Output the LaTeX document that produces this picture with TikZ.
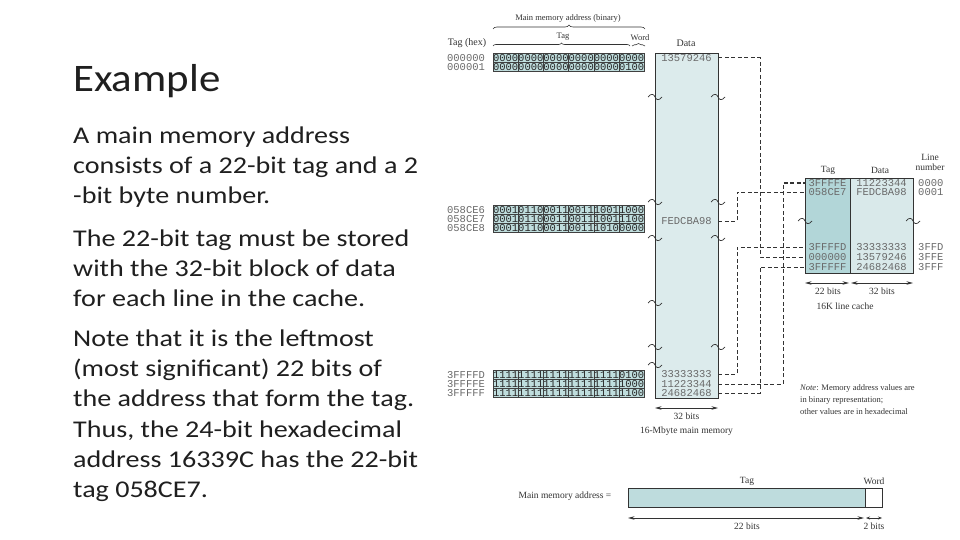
\documentclass[tikz,border=0pt]{standalone}
\usepackage{fontspec}
\setmainfont{Liberation Serif}
\newfontfamily\bodyfont[FakeStretch=1.17]{Carlito}
\newfontfamily\titlefont[FakeStretch=1.1]{Carlito}
\newfontfamily\hexfont{Liberation Mono}
\usetikzlibrary{decorations.pathreplacing,arrows.meta}
\definecolor{memfill}{HTML}{DCEBEC}
\definecolor{tagfill}{HTML}{B2D6D8}
\definecolor{datfill}{HTML}{D9E9EA}
\definecolor{binfill}{HTML}{BFDDDD}
\definecolor{barfill}{HTML}{BEDCDD}
\definecolor{ink}{HTML}{333333}
\definecolor{hexgray}{HTML}{6A6A6A}
\newcommand\binrow[3]{%
  \foreach \g [count=\i from 0] in {#3} {\node[bincell] (#1-\i) at ({505.6+25.2*\i},#2) {\g};}}
\begin{document}
\begin{tikzpicture}[x=1pt,y=-1pt,
  bodytxt/.style={anchor=base west, inner sep=0, font=\bodyfont\fontsize{24}{28}\selectfont, text=black!88},
  lbl/.style={inner sep=0, font=\fontsize{9}{10}\selectfont, text=ink},
  hex/.style={inner sep=0, font=\hexfont\fontsize{10.5}{11}\selectfont, text=hexgray},
  bincell/.style={draw=black!75, line width=0.6pt, fill=binfill, inner sep=0, minimum width=25.2pt, minimum height=8.5pt, font=\hexfont\fontsize{10.5}{9}\selectfont, text=black!85},
  conn/.style={draw=ink, line width=1pt, dash pattern=on 4pt off 2.5pt},
  dimarrow/.style={{Stealth[length=6.5pt,width=3.5pt]}-{Stealth[length=6.5pt,width=3.5pt]}, line width=0.7pt, draw=ink},
  boxline/.style={draw=ink, line width=0.9pt, inner sep=0},
  wavy/.pic={\draw[ink, line width=0.7pt] (-7,0) .. controls (-4,-4) and (-1,-3) .. (0,0) .. controls (1,3) and (4,4) .. (7,0);}
]
\useasboundingbox (0,0) rectangle (960,540);
\fill[white] (0,0) rectangle (960,540);

% ---------- left text ----------
\node[anchor=base west, inner sep=0, font=\titlefont\fontsize{39}{44}\selectfont, text=black!88] (title) at (73,92) {Example};
\node[bodytxt] (t1) at (73,144) {A main memory address};
\node[bodytxt] (t2) at (73,174) {consists of a 22-bit tag and a 2};
\node[bodytxt] (t3) at (73,204) {-bit byte number.};
\node[bodytxt] (t4) at (73,246) {The 22-bit tag must be stored};
\node[bodytxt] (t5) at (73,276) {with the 32-bit block of data};
\node[bodytxt] (t6) at (73,306) {for each line in the cache.};
\node[bodytxt] (t7) at (73,346) {Note that it is the leftmost};
\node[bodytxt] (t8) at (73,376) {(most significant) 22 bits of};
\node[bodytxt] (t9) at (73,406) {the address that form the tag.};
\node[bodytxt] (t10) at (73,437) {Thus, the 24-bit hexadecimal};
\node[bodytxt] (t11) at (73,467) {address 16339C has the 22-bit};
\node[bodytxt] (t12) at (73,497) {tag 058CE7.};

% ---------- headers ----------
\node[lbl, font=\fontsize{8.5}{10}\selectfont] (hmain) at (568,18) {Main memory address (binary)};
\draw[ink, line width=0.6pt, decorate, decoration={brace, amplitude=4pt}] (493,29) -- (645,29);
\node[lbl, font=\fontsize{8.5}{10}\selectfont] (htag) at (563,37) {Tag};
\node[lbl, font=\fontsize{8.5}{10}\selectfont] (hword) at (640,38) {Word};
\draw[ink, line width=0.6pt, decorate, decoration={brace, amplitude=3pt}] (493,46) -- (630,46);
\draw[ink, line width=0.6pt, decorate, decoration={brace, amplitude=2.5pt}] (632,46) -- (645,46);
\node[lbl, font=\fontsize{10}{11}\selectfont] (hhex) at (467,43) {Tag (hex)};
\node[lbl, font=\fontsize{10}{11}\selectfont] (hdata) at (686,43) {Data};

% ---------- main memory ----------
\node[boxline, fill=memfill, minimum width=63pt, minimum height=345pt] (mem) at (686.5,225.5) {};
\foreach \yy in {97,202,238,303,347,365} {\pic at (655,\yy) {wavy};}
\foreach \yy in {97,202,238,347} {\pic at (718,\yy) {wavy};}

\node[hex] (a0) at (466,58) {000000};
\node[hex] (a1) at (466,67) {000001};
\node[hex] (a2) at (466,210) {058CE6};
\node[hex] (a3) at (466,219) {058CE7};
\node[hex] (a4) at (466,228) {058CE8};
\node[hex] (a5) at (466,375) {3FFFFD};
\node[hex] (a6) at (466,384) {3FFFFE};
\node[hex] (a7) at (466,393) {3FFFFF};

\binrow{b0}{58}{0000,0000,0000,0000,0000,0000}
\binrow{b1}{67}{0000,0000,0000,0000,0000,0100}
\binrow{b2}{210}{0001,0110,0011,0011,1001,1000}
\binrow{b3}{219}{0001,0110,0011,0011,1001,1100}
\binrow{b4}{228}{0001,0110,0011,0011,1010,0000}
\binrow{b5}{375}{1111,1111,1111,1111,1111,0100}
\binrow{b6}{384}{1111,1111,1111,1111,1111,1000}
\binrow{b7}{393}{1111,1111,1111,1111,1111,1100}

\node[hex] (d1) at (686.5,58) {13579246};
\node[hex] (d2) at (686.5,221) {FEDCBA98};
\node[hex] (d3) at (686.5,374) {33333333};
\node[hex] (d4) at (686.5,384) {11223344};
\node[hex] (d5) at (686.5,393) {24682468};

\coordinate (m32l) at (655,408);
\coordinate (m32r) at (718,408);
\draw[dimarrow] (m32l) -- (m32r);
\node[lbl, font=\fontsize{9.5}{11}\selectfont] (m32) at (686.5,416) {32 bits};
\node[lbl, font=\fontsize{9.5}{11}\selectfont] (mcap) at (686.5,431) {16-Mbyte main memory};

% ---------- cache ----------
\node[lbl, font=\fontsize{9.5}{11}\selectfont] (ctagh) at (828,170) {Tag};
\node[lbl, font=\fontsize{9.5}{11}\selectfont] (cdath) at (880,170) {Data};
\node[lbl, font=\fontsize{9.5}{11}\selectfont, align=center] (clnh) at (930,162.5) {Line\\[-1.5pt]number};
\node[boxline, fill=tagfill, minimum width=45pt, minimum height=95pt] (ctag) at (827.5,225.5) {};
\node[boxline, fill=datfill, minimum width=63pt, minimum height=95pt] (cdat) at (881.5,225.5) {};
\pic at (805,221) {wavy};
\pic at (913,221) {wavy};

\node[hex] (ct1) at (827.5,183) {3FFFFE};
\node[hex] (ct2) at (827.5,192) {058CE7};
\node[hex] (ct3) at (827.5,247) {3FFFFD};
\node[hex] (ct4) at (827.5,257) {000000};
\node[hex] (ct5) at (827.5,267) {3FFFFF};
\node[hex] (cd1) at (881.5,183) {11223344};
\node[hex] (cd2) at (881.5,192) {FEDCBA98};
\node[hex] (cd3) at (881.5,247) {33333333};
\node[hex] (cd4) at (881.5,257) {13579246};
\node[hex] (cd5) at (881.5,267) {24682468};
\node[hex, anchor=west] (cl1) at (918,183) {0000};
\node[hex, anchor=west] (cl2) at (918,192) {0001};
\node[hex, anchor=west] (cl3) at (918,247) {3FFD};
\node[hex, anchor=west] (cl4) at (918,257) {3FFE};
\node[hex, anchor=west] (cl5) at (918,267) {3FFF};

\coordinate (c22l) at (805,283);
\coordinate (c22r) at (849,283);
\coordinate (c32l) at (851,283);
\coordinate (c32r) at (913,283);
\draw[dimarrow] (c22l) -- (c22r);
\draw[dimarrow] (c32l) -- (c32r);
\node[lbl, font=\fontsize{9.5}{11}\selectfont] (c22) at (828,291) {22 bits};
\node[lbl, font=\fontsize{9.5}{11}\selectfont] (c32) at (882,291) {32 bits};
\node[lbl, font=\fontsize{9.5}{11}\selectfont] (ccap) at (845,306) {16K line cache};

% ---------- connectors ----------
\coordinate (v1) at (737,0);
\coordinate (v2) at (760,0);
\coordinate (v3) at (783,0);
\draw[conn] (d1 -| mem.east) -- (d1 -| v2) |- (ct4 -| ctag.west);
\draw[conn] (d2 -| mem.east) -- (d2 -| v1) |- (ct2 -| ctag.west);
\draw[conn] (d3 -| mem.east) -- (d3 -| v1) |- (ct3 -| ctag.west);
\draw[conn] (d4 -| mem.east) -- (d4 -| v3) |- (ct1 -| ctag.west);
\draw[conn] (d5 -| mem.east) -- (d5 -| v2) |- (ct5 -| ctag.west);

% ---------- note ----------
\node[lbl, anchor=north west, align=left, font=\fontsize{8.5}{12}\selectfont] (note) at (800,384) {\textit{Note}: Memory address values are\\in binary representation;\\other values are in hexadecimal};

% ---------- bottom address format ----------
\node[lbl, font=\fontsize{9.5}{11}\selectfont] (mma) at (565,496) {Main memory address =};
\node[boxline, fill=barfill, minimum width=237pt, minimum height=19pt] (btag) at (746.5,497.5) {};
\node[boxline, fill=white, minimum width=17pt, minimum height=19pt] (bword) at (873.5,497.5) {};
\node[lbl, font=\fontsize{9.5}{11}\selectfont] (btagl) at (747,481) {Tag};
\node[lbl, font=\fontsize{9.5}{11}\selectfont] (bwordl) at (874,481) {Word};
\coordinate (b22l) at (628,518);
\coordinate (b22r) at (864,518);
\coordinate (b2l) at (866,518);
\coordinate (b2r) at (882,518);
\draw[dimarrow] (b22l) -- (b22r);
\draw[dimarrow, {Stealth[length=4pt,width=3pt]}-{Stealth[length=4pt,width=3pt]}] (b2l) -- (b2r);
\node[lbl, font=\fontsize{9.5}{11}\selectfont] (b22) at (747,526) {22 bits};
\node[lbl, font=\fontsize{9.5}{11}\selectfont] (b2) at (874,526) {2 bits};
\end{tikzpicture}
\end{document}
